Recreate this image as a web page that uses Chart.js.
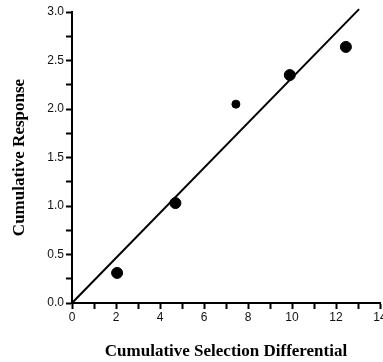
<!DOCTYPE html>
<html>
<head>
<meta charset="utf-8">
<script src="https://cdn.jsdelivr.net/npm/chart.js@4"></script>
<style>
  html, body { margin: 0; padding: 0; background: #fff; }
  #wrap { width: 383px; height: 362px; }
</style>
</head>
<body>
<div id="wrap"><canvas id="chart"></canvas></div>
<script>
// Observed points (selection differential vs response)
const selDiff = [2.05, 4.7, 7.45, 9.9, 12.45];
const response = [0.31, 1.03, 2.05, 2.35, 2.64];
const pointSizes = [5.5, 5.5, 4, 5.5, 5.5];

// Fitted regression line through the origin
const fitX = [0, 13.05];
const fitY = [0, 3.03];

const xTicks = [0, 2, 4, 6, 8, 10, 12, 14];
const yTicks = [0, 0.5, 1, 1.5, 2, 2.5, 3];

const tickFont = { family: 'Liberation Sans', size: 12 };
const titleFont = { family: 'Liberation Serif', size: 17, weight: 'bold' };

// keep the chart area fixed, labels at the edges may be clipped
function noPad(scale) {
  scale.paddingLeft = 0;
  scale.paddingRight = 0;
  scale.paddingTop = 0;
  scale.paddingBottom = 0;
}

new Chart(document.getElementById('chart').getContext('2d'), {
  type: 'scatter',
  data: {
    datasets: [
      {
        label: 'fit',
        type: 'line',
        data: fitX.map((x, i) => ({ x: x, y: fitY[i] })),
        borderColor: '#000',
        borderWidth: 2,
        pointRadius: 0,
        fill: false,
        clip: false
      },
      {
        label: 'observed',
        data: selDiff.map((x, i) => ({ x: x, y: response[i] })),
        backgroundColor: '#000',
        borderColor: '#000',
        pointRadius: pointSizes,
        pointHoverRadius: pointSizes
      }
    ]
  },
  options: {
    responsive: true,
    maintainAspectRatio: false,
    animation: false,
    layout: { autoPadding: false, padding: { top: 12, right: 3, left: 0, bottom: 0 } },
    plugins: { legend: { display: false }, tooltip: { enabled: false } },
    scales: {
      x: {
        type: 'linear',
        min: 0,
        max: 14,
        afterFit: (s) => { s.height = 59; noPad(s); },
        border: { color: '#000', width: 2 },
        grid: { drawOnChartArea: false, tickLength: 6, tickColor: '#000', tickWidth: 2 },
        ticks: {
          stepSize: 1,
          color: '#111',
          font: tickFont,
          padding: 1,
          maxRotation: 0,
          autoSkip: false,
          callback: (v) => xTicks.includes(v) ? String(v) : ''
        },
        title: {
          display: true,
          text: 'Cumulative Selection Differential',
          color: '#000',
          font: titleFont,
          padding: { top: 10, bottom: 0 }
        }
      },
      y: {
        type: 'linear',
        min: 0,
        max: 3,
        afterFit: (s) => { s.width = 72; noPad(s); },
        border: { color: '#000', width: 2 },
        grid: { drawOnChartArea: false, tickLength: 6, tickColor: '#000', tickWidth: 2 },
        ticks: {
          stepSize: 0.25,
          color: '#111',
          font: tickFont,
          padding: 2,
          autoSkip: false,
          callback: (v) => yTicks.includes(v) ? v.toFixed(1) : ''
        },
        title: {
          display: true,
          text: 'Cumulative Response',
          color: '#000',
          font: titleFont,
          padding: { top: 9, bottom: 0 }
        }
      }
    }
  }
});
</script>
</body>
</html>
